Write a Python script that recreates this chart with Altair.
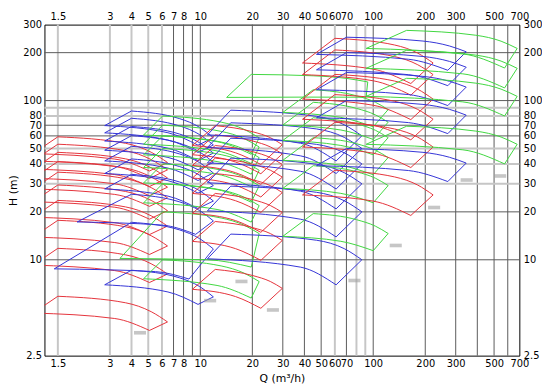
import altair as alt
import pandas as pd

# ---------------- axis ticks and grid ----------------
X_TICKS = [1.5, 3, 4, 5, 6, 7, 8, 10, 20, 30, 40, 50, 60, 70, 100, 200, 300, 500, 700]
Y_TICKS = [2.5, 10, 20, 30, 40, 50, 60, 70, 80, 100, 200, 300]
X_GRID_LIGHT = [1.5, 3, 4, 5, 6, 60, 80, 90]
X_GRID_DARK = [7, 8, 9, 10, 20, 30, 40, 50, 70, 100, 200, 300, 400, 500, 600]
Y_GRID_LIGHT = [30, 40, 50, 80, 90]
Y_GRID_DARK = [10, 20, 60, 70, 100, 200]

# ---------------- pump families (Q in m3/h, head relative to top-left head) ----------------
# Family A (red, small)
A_TOP_Q = [1.5, 3.7, 5.2, 6.46]
A_TOP_R = [1.0, 0.91, 0.80, 0.69]
A_BOT_Q = [1.08, 3.2, 5.08]
A_BOT_R = [0.785, 0.725, 0.61]
A_HEADS = [5.9, 11.8, 17.7, 23.6, 29.5, 35.5, 41.4, 47.3, 53.2, 59.2]

# Family B (blue)
B_TOP_Q = [4.0, 7.6, 9.9, 11.9]
B_TOP_R = [1.0, 0.895, 0.79, 0.68]
B_BOT_Q = [2.8, 6.5, 9.7]
B_BOT_R = [0.81, 0.73, 0.61]
B_HEADS = [8.6, 34.4, 43.0, 51.6, 60.2, 68.8, 77.4, 86.0]
# B, 2 stages (wide tile)
B2_BOT_Q = [1.43, 5.5, 8.6]
B2_BOT_R = [0.51, 0.49, 0.44]
B2_HEADS = [17.2]
# B, 3 stages (wide tile)
B3_BOT_Q = [1.94, 6.0, 9.4]
B3_BOT_R = [0.67, 0.64, 0.56]
B3_HEADS = [25.8]

# Family C (green)
C_TOP_Q = [6.05, 13.2, 17.9, 21.9]
C_TOP_R = [1.0, 0.915, 0.825, 0.73]
C_BOT_Q = [4.7, 12.5, 19.7]
C_BOT_R = [0.76, 0.69, 0.575]
C_HEADS = [10, 30, 40, 50, 60, 70, 80]
# C, 2 stages (wide tile)
C2_BOT_Q = [3.43, 11.0, 19.7]
C2_BOT_R = [0.51, 0.50, 0.45]
C2_HEADS = [20]

# Family D (red)
D_TOP_Q = [12.2, 20.1, 25.4, 29.8]
D_TOP_R = [1.0, 0.915, 0.84, 0.76]
D_BOT_Q = [9.0, 16.0, 22.4]
D_BOT_R = [0.75, 0.675, 0.57]
D_HEADS = [8.7, 17.4, 26.1, 34.8, 43.5, 52.2, 60.9, 69.6]

# Family E (blue)
E_TOP_Q = [15, 47, 68, 86]
E_TOP_R = [1.0, 0.915, 0.81, 0.69]
E_BOT_Q = [11, 38, 61]
E_BOT_R = [0.70, 0.62, 0.48]
E_HEADS = [14.5, 29, 43.5, 58, 72.5, 87]

# Family F (red, large)
F_TOP_Q = [60, 133, 181, 222]
F_TOP_R = [1.0, 0.908, 0.807, 0.70]
F_BOT_Q = [39, 100, 165]
F_BOT_R = [0.70, 0.64, 0.52]
F_HEADS = [36.5, 73, 109, 146, 208, 246]

# Family J (blue, large)
J_TOP_Q = [70, 194, 276, 345]
J_TOP_R = [1.0, 0.946, 0.881, 0.81]
J_BOT_Q = [47, 160, 270]
J_BOT_R = [0.78, 0.727, 0.62]
J_HEADS = [50, 100, 150, 200, 250]

# Family K (green, medium)
K_TOP_Q = [45, 80, 103, 122]
K_TOP_R = [1.0, 0.916, 0.834, 0.75]
K_BOT_Q = [30, 65, 100]
K_BOT_R = [0.72, 0.67, 0.585]
K_HEADS = [19.5, 39, 58.5, 78, 97.5, 117]

# Family L (green, single high tile)
L_TOP_Q = [19.7, 45, 70, 93]
L_TOP_R = [1.0, 0.98, 0.944, 0.897]
L_BOT_Q = [14.2, 40, 91]
L_BOT_R = [0.717, 0.72, 0.719]
L_HEADS = [146]

# Family I (green, largest)
I_TOP_Q = [156, 392, 549, 680]
I_TOP_R = [1.0, 0.932, 0.855, 0.77]
I_BOT_Q = [91, 330, 575]
I_BOT_R = [0.77, 0.711, 0.58]
I_HEADS = [69, 138, 207, 276]

# blurred model labels
LABEL_Q = [4.48, 11.4, 17.3, 26.3, 77.9, 135, 225, 347, 542]
LABEL_H = [3.48, 5.54, 7.31, 4.84, 7.41, 12.3, 21.3, 31.7, 33.6]

COLORS = ["red", "blue", "green"]
COLOR_RANGE = ["#e5323a", "#3333d6", "#3fd63f"]

FAMILIES = [
    ("A", "red", A_TOP_Q, A_TOP_R, A_BOT_Q, A_BOT_R, A_HEADS),
    ("B", "blue", B_TOP_Q, B_TOP_R, B_BOT_Q, B_BOT_R, B_HEADS),
    ("B2", "blue", B_TOP_Q, B_TOP_R, B2_BOT_Q, B2_BOT_R, B2_HEADS),
    ("B3", "blue", B_TOP_Q, B_TOP_R, B3_BOT_Q, B3_BOT_R, B3_HEADS),
    ("C", "green", C_TOP_Q, C_TOP_R, C_BOT_Q, C_BOT_R, C_HEADS),
    ("C2", "green", C_TOP_Q, C_TOP_R, C2_BOT_Q, C2_BOT_R, C2_HEADS),
    ("D", "red", D_TOP_Q, D_TOP_R, D_BOT_Q, D_BOT_R, D_HEADS),
    ("E", "blue", E_TOP_Q, E_TOP_R, E_BOT_Q, E_BOT_R, E_HEADS),
    ("K", "green", K_TOP_Q, K_TOP_R, K_BOT_Q, K_BOT_R, K_HEADS),
    ("L", "green", L_TOP_Q, L_TOP_R, L_BOT_Q, L_BOT_R, L_HEADS),
    ("F", "red", F_TOP_Q, F_TOP_R, F_BOT_Q, F_BOT_R, F_HEADS),
    ("J", "blue", J_TOP_Q, J_TOP_R, J_BOT_Q, J_BOT_R, J_HEADS),
    ("I", "green", I_TOP_Q, I_TOP_R, I_BOT_Q, I_BOT_R, I_HEADS),
]

rows = []
for fam, col, tq, tr, bq, br, heads in FAMILIES:
    for i, h in enumerate(heads):
        base = f"{fam}_{i}"
        for q, r in zip(tq, tr):
            rows.append({"piece": base + "t", "q": q, "h": h * r, "c": col})
        for q, r in zip(bq, br):
            rows.append({"piece": base + "b", "q": q, "h": h * r, "c": col})
        rows.append({"piece": base + "l", "q": bq[0], "h": h * br[0], "c": col})
        rows.append({"piece": base + "l", "q": tq[0], "h": h, "c": col})
        rows.append({"piece": base + "r", "q": tq[-1], "h": h * tr[-1], "c": col})
        rows.append({"piece": base + "r", "q": bq[-1], "h": h * br[-1], "c": col})
tiles_df = pd.DataFrame(rows)

XS = alt.Scale(type="log", domain=[1.255, 700], nice=False)
YS = alt.Scale(type="log", domain=[2.5, 300], nice=False)

ax_bottom = alt.Axis(orient="bottom", values=X_TICKS, format="~g", labelOverlap=False,
                     labelFlush=False, title="Q (m³/h)", labelPadding=3, titlePadding=4)
ax_top = alt.Axis(orient="top", values=X_TICKS, format="~g", labelOverlap=False,
                  labelFlush=False, title="", labelPadding=3)
ax_left = alt.Axis(orient="left", values=Y_TICKS, format="~g", labelOverlap=False,
                   title="H (m)", labelPadding=3, titlePadding=4)
ax_right = alt.Axis(orient="right", values=Y_TICKS, format="~g", labelOverlap=False,
                    title="", labelPadding=4)

vlight = alt.Chart(pd.DataFrame({"v": X_GRID_LIGHT})).mark_rule(
    color="#c6c6c6", strokeWidth=2).encode(x=alt.X("v:Q", scale=XS, axis=ax_top))
vdark = alt.Chart(pd.DataFrame({"v": X_GRID_DARK})).mark_rule(
    color="#5a5a5a", strokeWidth=1).encode(x=alt.X("v:Q", scale=XS, axis=None))
hlight = alt.Chart(pd.DataFrame({"v": Y_GRID_LIGHT})).mark_rule(
    color="#c6c6c6", strokeWidth=2).encode(y=alt.Y("v:Q", scale=YS, axis=ax_right))
hdark = alt.Chart(pd.DataFrame({"v": Y_GRID_DARK})).mark_rule(
    color="#5a5a5a", strokeWidth=1).encode(y=alt.Y("v:Q", scale=YS, axis=None))

tiles = alt.Chart(tiles_df).mark_line(
    interpolate="monotone", strokeWidth=1, clip=True
).encode(
    x=alt.X("q:Q", scale=XS, axis=ax_bottom),
    y=alt.Y("h:Q", scale=YS, axis=ax_left),
    color=alt.Color("c:N", scale=alt.Scale(domain=COLORS, range=COLOR_RANGE), legend=None),
    detail="piece:N",
)

labels = alt.Chart(pd.DataFrame({"q": LABEL_Q, "h": LABEL_H})).mark_point(
    shape="M-1,-0.3L1,-0.3L1,0.3L-1,0.3Z", size=150, filled=True,
    color="#a0a0a0", opacity=0.6
).encode(
    x=alt.X("q:Q", scale=XS, axis=None),
    y=alt.Y("h:Q", scale=YS, axis=None),
)

chart = alt.layer(vlight, vdark, hlight, hdark, tiles, labels).resolve_axis(
    x="independent", y="independent"
).properties(
    width=482, height=336,
    autosize=alt.AutoSizeParams(type="none"),
    padding={"left": 37, "top": 14, "right": 23, "bottom": 31},
).configure_view(
    stroke="black", strokeWidth=1
).configure_axis(
    labelFont="DejaVu Sans", labelFontSize=10, labelColor="black",
    titleFont="DejaVu Sans", titleFontSize=11, titleFontWeight="normal", titleColor="black",
    grid=False, domain=False, ticks=False,
)

chart.save("out.html", embed_options={"renderer": "svg", "actions": False})
